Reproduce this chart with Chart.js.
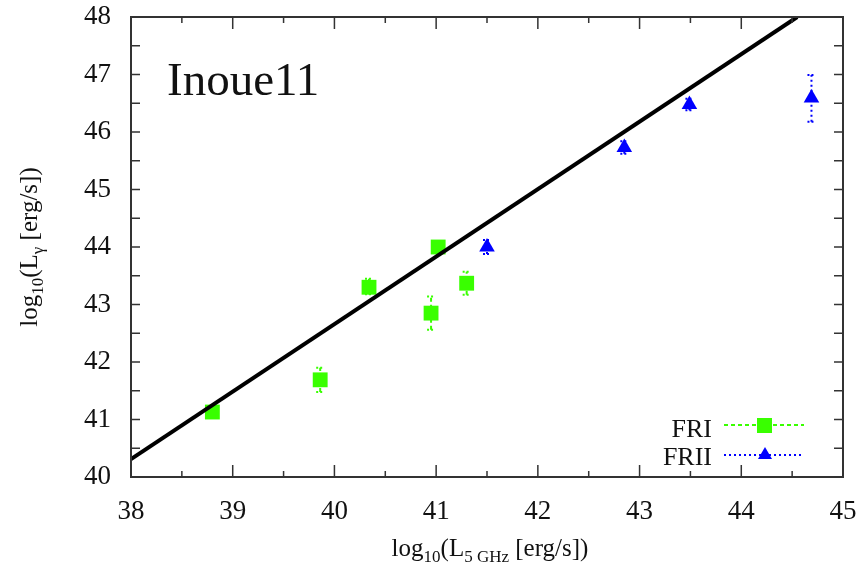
<!DOCTYPE html>
<html>
<head>
<meta charset="utf-8">
<script src="https://cdn.jsdelivr.net/npm/chart.js@4"></script>
<style>
  html, body { margin: 0; padding: 0; background: #fff; }
  #wrap { width: 861px; height: 571px; }
</style>
</head>
<body>
<div id="wrap"><canvas id="myChart"></canvas></div>
<script>
// FRI (green squares)
const friX = [38.80, 39.86, 40.34, 40.95, 41.02, 41.30];
const friY = [41.13, 41.69, 43.30, 42.85, 44.00, 43.37];
const friLo = [41.04, 41.48, 43.18, 42.56, 43.90, 43.17];
const friHi = [41.22, 41.90, 43.45, 43.14, 44.10, 43.57];

// FRII (blue triangles)
const friiX = [41.50, 42.85, 43.49, 44.69];
const friiY = [44.00, 45.73, 46.48, 46.59];
const friiLo = [43.88, 45.62, 46.38, 46.18];
const friiHi = [44.12, 45.84, 46.58, 46.99];

// correlation line
const lineX = [38, 44.55];
const lineY = [40.31, 48];

const xTicks = [38, 39, 40, 41, 42, 43, 44, 45];
const yTicks = [40, 41, 42, 43, 44, 45, 46, 47, 48];

const serif = '"Liberation Serif", "Times New Roman", serif';
const green = '#39ff00';
const blue = '#0000ff';

const toPts = (xs, ys) => xs.map((x, i) => ({ x, y: ys[i] }));

// dashed error bars, box with inward ticks, texts
const extras = {
  id: 'extras',
  beforeDatasetsDraw(chart) {
    const ctx = chart.ctx;
    const xs = chart.scales.x, ys = chart.scales.y;
    const bars = [
      { xv: friX, lo: friLo, hi: friHi, color: green, dash: [4, 3] },
      { xv: friiX, lo: friiLo, hi: friiHi, color: blue, dash: [2, 3] }
    ];
    ctx.save();
    bars.forEach(b => {
      ctx.strokeStyle = b.color;
      ctx.lineWidth = 2;
      b.xv.forEach((xv, i) => {
        const px = xs.getPixelForValue(xv);
        const p1 = ys.getPixelForValue(b.lo[i]);
        const p2 = ys.getPixelForValue(b.hi[i]);
        ctx.setLineDash(b.dash);
        ctx.beginPath();
        ctx.moveTo(px, p1); ctx.lineTo(px, p2);
        ctx.stroke();
        ctx.setLineDash([2, 2]);
        ctx.beginPath();
        ctx.moveTo(px - 4, p1); ctx.lineTo(px + 4, p1);
        ctx.moveTo(px - 4, p2); ctx.lineTo(px + 4, p2);
        ctx.stroke();
      });
    });
    ctx.restore();
  },
  afterDraw(chart) {
    const ctx = chart.ctx;
    const a = chart.chartArea;
    const xs = chart.scales.x, ys = chart.scales.y;
    ctx.save();
    ctx.setLineDash([]);
    ctx.strokeStyle = '#333';
    ctx.lineWidth = 2;
    ctx.strokeRect(a.left, a.top, a.right - a.left, a.bottom - a.top);
    ctx.lineWidth = 1.5;
    ctx.beginPath();
    for (let v = 38; v <= 45; v += 0.5) {
      const px = xs.getPixelForValue(v);
      const len = Number.isInteger(v) ? 12 : 6;
      ctx.moveTo(px, a.bottom); ctx.lineTo(px, a.bottom - len);
      ctx.moveTo(px, a.top); ctx.lineTo(px, a.top + len);
    }
    for (let v = 40; v <= 48; v += 0.5) {
      const py = ys.getPixelForValue(v);
      ctx.moveTo(a.left, py); ctx.lineTo(a.left + 9, py);
      ctx.moveTo(a.right, py); ctx.lineTo(a.right - 9, py);
    }
    ctx.stroke();

    ctx.fillStyle = '#111';
    // annotation
    ctx.font = '47px ' + serif;
    ctx.textAlign = 'left';
    ctx.textBaseline = 'alphabetic';
    ctx.fillText('Inoue11', 167, 95);

    // axis titles with subscripts
    const drawSub = (parts, x, y) => {
      let total = 0;
      parts.forEach(p => { ctx.font = (p.sub ? '17px ' : '25px ') + serif; total += ctx.measureText(p.t).width; });
      let cx = x - total / 2;
      ctx.textAlign = 'left';
      parts.forEach(p => {
        ctx.font = (p.sub ? '17px ' : '25px ') + serif;
        ctx.fillText(p.t, cx, y + (p.sub ? 6 : 0));
        cx += ctx.measureText(p.t).width;
      });
    };
    drawSub([{ t: 'log' }, { t: '10', sub: true }, { t: '(L' }, { t: '5 GHz', sub: true }, { t: ' [erg/s])' }], 490, 556);
    ctx.save();
    ctx.translate(37, 247);
    ctx.rotate(-Math.PI / 2);
    drawSub([{ t: 'log' }, { t: '10', sub: true }, { t: '(L' }, { t: 'γ', sub: true }, { t: ' [erg/s])' }], 0, 0);
    ctx.restore();

    // legend
    ctx.font = '26px ' + serif;
    ctx.textAlign = 'right';
    ctx.fillText('FRI', 712, 437);
    ctx.fillText('FRII', 712, 465);
    ctx.lineWidth = 2;
    ctx.strokeStyle = green;
    ctx.setLineDash([4, 3]);
    ctx.beginPath();
    ctx.moveTo(724, 425); ctx.lineTo(804, 425);
    ctx.stroke();
    ctx.setLineDash([]);
    ctx.fillStyle = green;
    ctx.fillRect(757, 418, 15, 15);
    ctx.strokeStyle = blue;
    ctx.setLineDash([2, 3]);
    ctx.beginPath();
    ctx.moveTo(724, 455); ctx.lineTo(804, 455);
    ctx.stroke();
    ctx.setLineDash([]);
    ctx.fillStyle = blue;
    ctx.beginPath();
    ctx.moveTo(765, 447); ctx.lineTo(772, 459); ctx.lineTo(758, 459);
    ctx.closePath();
    ctx.fill();
    ctx.restore();
  }
};

const config = {
  type: 'scatter',
  data: {
    datasets: [
      {
        label: 'fit',
        data: toPts(lineX, lineY),
        showLine: true,
        borderColor: '#000',
        borderWidth: 4,
        pointRadius: 0
      },
      {
        label: 'FRI',
        data: toPts(friX, friY),
        pointStyle: 'rect',
        pointRadius: 10.5,
        backgroundColor: green,
        borderColor: green,
        borderWidth: 0
      },
      {
        label: 'FRII',
        data: toPts(friiX, friiY),
        pointStyle: 'triangle',
        pointRadius: 9,
        backgroundColor: blue,
        borderColor: blue,
        borderWidth: 0
      }
    ]
  },
  options: {
    responsive: true,
    maintainAspectRatio: false,
    animation: false,
    layout: { padding: { left: 0, right: 18, top: 17, bottom: 0 } },
    plugins: { legend: { display: false }, tooltip: { enabled: false } },
    scales: {
      x: {
        type: 'linear',
        min: 38,
        max: 45,
        grid: { display: false },
        border: { display: false },
        afterBuildTicks: s => { s.ticks = xTicks.map(v => ({ value: v })); },
        afterFit: s => { s.height = 94; s.paddingLeft = 0; s.paddingRight = 0; },
        ticks: { padding: 11, color: '#111', font: { family: serif, size: 27 }, maxRotation: 0 }
      },
      y: {
        type: 'linear',
        min: 40,
        max: 48,
        grid: { display: false },
        border: { display: false },
        afterBuildTicks: s => { s.ticks = yTicks.map(v => ({ value: v })); },
        afterFit: s => { s.width = 131; s.paddingTop = 0; s.paddingBottom = 0; },
        ticks: { padding: 12, color: '#111', font: { family: serif, size: 27 } }
      }
    }
  },
  plugins: [extras]
};

const myChart = new Chart(document.getElementById('myChart'), config);
</script>
</body>
</html>
